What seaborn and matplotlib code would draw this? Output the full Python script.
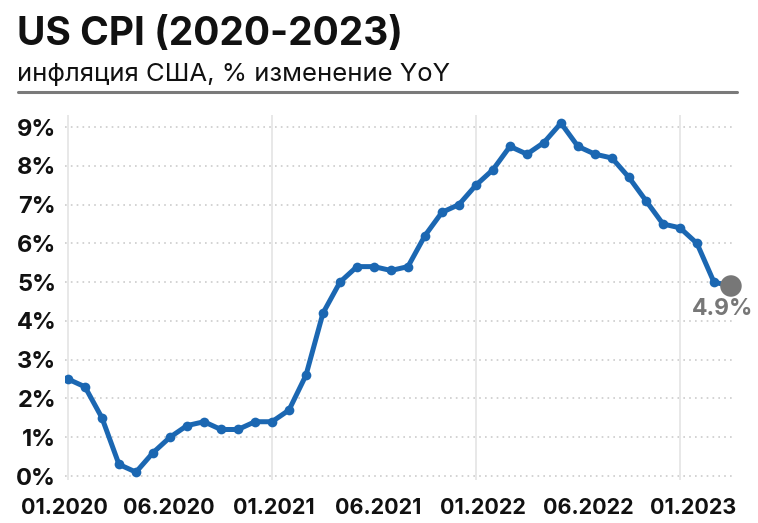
import matplotlib
matplotlib.use("Agg")
import matplotlib.pyplot as plt
import seaborn as sns
import pandas as pd
import numpy as np

months = [f"{m:02d}.{y}" for y in range(2020, 2024) for m in range(1, 13)][:40]
cpi = [2.5, 2.3, 1.5, 0.3, 0.1, 0.6, 1.0, 1.3, 1.4, 1.2, 1.2, 1.4,
       1.4, 1.7, 2.6, 4.2, 5.0, 5.4, 5.4, 5.3, 5.4, 6.2, 6.8, 7.0,
       7.5, 7.9, 8.5, 8.3, 8.6, 9.1, 8.5, 8.3, 8.2, 7.7, 7.1, 6.5,
       6.4, 6.0, 5.0, 4.9]
tick_labels = ["01.2020", "06.2020", "01.2021", "06.2021", "01.2022", "06.2022", "01.2023"]
y_ticks = list(range(0, 10))
title = "US CPI (2020-2023)"
subtitle = "инфляция США, % изменение YoY"

df = pd.DataFrame({"idx": range(len(cpi)), "month": months, "cpi": cpi})

sns.set_theme(style="white")
plt.rcParams['font.family'] = ['Inter', 'DejaVu Sans']

fig = plt.figure(figsize=(7.58, 5.23), dpi=100)
ax = fig.add_axes([0.0852, 0.0824, 0.8836, 0.697])

blue = "#1b67b2"
sns.lineplot(data=df.iloc[:-1], x="idx", y="cpi", ax=ax, color=blue, lw=3.6,
             marker="o", markersize=7, markeredgewidth=0, zorder=3)
sns.lineplot(data=df.iloc[-2:], x="idx", y="cpi", ax=ax, color=blue, lw=3.6, zorder=3)
last = df.iloc[[-1]]
sns.scatterplot(data=last, x="idx", y="cpi", ax=ax, color="#777777", s=240,
                edgecolor="none", zorder=4, clip_on=False)
ax.annotate(f"{cpi[-1]}%", (df.idx.iloc[-1], cpi[-1]), xytext=(-6, -16.5),
            textcoords="offset points", ha="center", va="center",
            fontsize=16.5, fontweight="bold", color="#777777")

# labels are spread evenly across the axis (as in the reference layout)
tick_pos = np.linspace(-0.2, 36.75, len(tick_labels))
ax.set_xticks(tick_pos)
ax.set_xticklabels(tick_labels)
ax.set_yticks(y_ticks)
ax.set_yticklabels([f"{v}%" for v in y_ticks])
ax.set_xlim(-0.2, 39.2)
ax.set_ylim(-0.1, 9.3)

for v in y_ticks:
    ax.axhline(v, color="#cccccc", lw=1.2, ls=(0, (1, 2.5)), zorder=1)
for lab in tick_labels:
    if lab.startswith("01"):
        ax.axvline(months.index(lab), color="#e6e6e6", lw=1.3, zorder=1)

for s in ax.spines.values():
    s.set_visible(False)
ax.tick_params(axis="both", length=0)
ax.tick_params(axis="y", pad=6)
ax.tick_params(axis="x", pad=13)
for lab in ax.get_yticklabels():
    lab.set_fontsize(17)
    lab.set_fontweight("bold")
    lab.set_color("#111111")
for lab in ax.get_xticklabels():
    lab.set_fontsize(15.5)
    lab.set_fontweight("bold")
    lab.set_color("#111111")
ax.set_xlabel("")
ax.set_ylabel("")

fig.text(17/758, 1 - 35/523, title, fontsize=28, fontweight="bold", color="#111111",
         ha="left", va="center")
fig.text(17/758, 1 - 74/523, subtitle, fontsize=18.5, color="#111111",
         ha="left", va="center")
fig.add_artist(plt.Line2D([18/758, 737/758], [1 - 92/523, 1 - 92/523],
                          color="#7a7a7a", lw=2.2))

fig.savefig("out.png", dpi=100, facecolor="white")
